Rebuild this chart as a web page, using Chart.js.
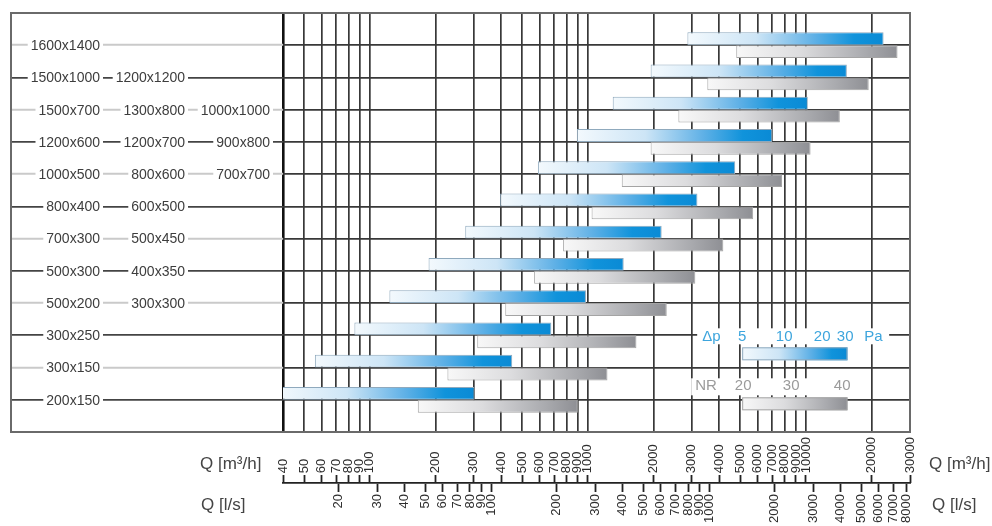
<!DOCTYPE html>
<html>
<head>
<meta charset="utf-8">
<title>Air flow ranges</title>
<script src="https://cdn.jsdelivr.net/npm/chart.js@4.4.1/dist/chart.umd.min.js"></script>
<style>
  html, body { margin: 0; padding: 0; background: #fff; }
  canvas { display: block; }
</style>
</head>
<body>
<canvas id="rangeChart" width="992" height="526"></canvas>
<script>
// duct sizes, up to three per row (top row first)
const sizeCol1 = ['1600x1400', '1500x1000', '1500x700', '1200x600', '1000x500', '800x400', '700x300', '500x300', '500x200', '300x250', '300x150', '200x150'];
const sizeCol2 = ['', '1200x1200', '1300x800', '1200x700', '800x600', '600x500', '500x450', '400x350', '300x300', '', '', ''];
const sizeCol3 = ['', '', '1000x1000', '900x800', '700x700', '', '', '', '', '', '', ''];

// flow range in m3/h, pressure drop 5..30 Pa (blue)
const dpLow  = [2860, 1940, 1300, 890, 590, 396, 274, 186, 123, 85, 56, 38];
const dpHigh = [22700, 15400, 10200, 7000, 4740, 3180, 2180, 1460, 980, 680, 450, 302];
// flow range in m3/h, noise NR 20..40 (grey)
const nrLow  = [4790, 3530, 2600, 1940, 1430, 1040, 770, 567, 418, 311, 227, 166];
const nrHigh = [26300, 19400, 14300, 10500, 7770, 5730, 4180, 3110, 2300, 1670, 1230, 900];

// axis ticks
const flowTicks = [40, 50, 60, 70, 80, 90, 100, 200, 300, 400, 500, 600, 700, 800, 900, 1000, 2000, 3000, 4000, 5000, 6000, 7000, 8000, 9000, 10000, 20000, 30000];
const litreTicks = [20, 30, 40, 50, 60, 70, 80, 90, 100, 200, 300, 400, 500, 600, 700, 800, 900, 1000, 2000, 3000, 4000, 5000, 6000, 7000, 8000];

// key labels
const dpKey = ['5', '10', '20', '30'];
const nrKey = ['20', '30', '40'];

const FLOW_MIN = 40;
const FLOW_MAX = 30000;
const M3H_PER_LS = 3.6;
const ROWS = sizeCol1.length;
const FONT = '"Liberation Sans", Arial, sans-serif';
const GRID = '#383838';

const blueStops = [[0, '#f3f9fd'], [0.35, '#cde5f6'], [0.65, '#5eb0e6'], [0.85, '#1093db'], [1, '#0a8ad5']];
const greyStops = [[0, '#f8f8f8'], [0.4, '#dcdcde'], [0.8, '#a9aaae'], [1, '#8e8f94']];

function makeGradient(ctx, x0, x1, stops) {
    const g = ctx.createLinearGradient(x0, 0, x1, 0);
    stops.forEach(s => g.addColorStop(s[0], s[1]));
    return g;
}

function barFill(stops) {
    return (c) => {
        const chart = c.chart;
        if (!chart.chartArea || !c.raw) return stops[stops.length - 1][1];
        const xs = chart.scales.x;
        return makeGradient(chart.ctx, xs.getPixelForValue(c.raw.x[0]), xs.getPixelForValue(c.raw.x[1]), stops);
    };
}

const tickVal = c => (c.tick ? c.tick.value : -1);
const edgeRow = v => v <= 0 || v >= ROWS + 1;
const oddRow = v => v > 0 && v <= ROWS && v % 2 === 1;

// frame and size labels in the left part
const sizeLabels = {
    id: 'sizeLabels',
    beforeDatasetsDraw(chart) {
        const { ctx, chartArea, scales: { y } } = chart;
        const colRight = [100, 185, 270];
        ctx.save();
        ctx.strokeStyle = '#6a6a6a';
        ctx.lineWidth = 2;
        ctx.strokeRect(y.left, chartArea.top, chartArea.right - y.left, chartArea.bottom - chartArea.top);
        ctx.font = '14px ' + FONT;
        ctx.textAlign = 'right';
        ctx.textBaseline = 'middle';
        [sizeCol1, sizeCol2, sizeCol3].forEach((col, k) => {
            col.forEach((txt, i) => {
                if (!txt) return;
                const yy = y.getPixelForValue(i + 1) + 1;
                const w = ctx.measureText(txt).width;
                ctx.fillStyle = '#fff';
                ctx.fillRect(colRight[k] - w - 3, yy - 8, w + 6, 16);
                ctx.fillStyle = '#3d3d3d';
                ctx.fillText(txt, colRight[k], yy);
            });
        });
        ctx.restore();
    }
};

// key box (Δp / NR) and axis names
const keyAndTitles = {
    id: 'keyAndTitles',
    afterDatasetsDraw(chart) {
        const { ctx, chartArea, scales: { x, y, x2 } } = chart;
        const x0 = x.getPixelForValue(5100);
        const x1 = x.getPixelForValue(15500);
        const base = y.getPixelForValue(10);
        ctx.save();
        ctx.textBaseline = 'middle';
        ctx.font = '15px ' + FONT;

        ctx.fillStyle = '#fff';
        ctx.fillRect(x0 - 45, base - 7, 192, 16);
        ctx.fillRect(x0 - 51, base + 43, 168, 17);

        // pressure drop row
        ctx.fillStyle = '#3da5dd';
        ctx.textAlign = 'left';
        ctx.fillText('\u0394p', x0 - 40, base + 2);
        ctx.fillText('Pa', x0 + 122, base + 2);
        ctx.textAlign = 'center';
        const dpPos = [0, 42, 80, 103];
        dpKey.forEach((t, i) => ctx.fillText(t, x0 + dpPos[i], base + 2));

        // noise row
        ctx.fillStyle = '#9b9b9b';
        ctx.textAlign = 'left';
        ctx.fillText('NR', x0 - 47, base + 51);
        ctx.textAlign = 'center';
        const nrPos = [1, 49, 100];
        nrKey.forEach((t, i) => ctx.fillText(t, x0 + nrPos[i], base + 51));

        // key bars
        ctx.lineWidth = 1;
        ctx.fillStyle = makeGradient(ctx, x0, x1, blueStops);
        ctx.fillRect(x0, base + 12, x1 - x0, 13);
        ctx.strokeStyle = '#8fa9bd';
        ctx.strokeRect(x0 + 0.5, base + 12.5, x1 - x0 - 1, 12);
        ctx.fillStyle = makeGradient(ctx, x0, x1, greyStops);
        ctx.fillRect(x0, base + 62, x1 - x0, 13);
        ctx.strokeStyle = '#a4a4a4';
        ctx.strokeRect(x0 + 0.5, base + 62.5, x1 - x0 - 1, 12);

        // axis names
        ctx.fillStyle = '#444';
        ctx.font = '17px ' + FONT;
        ctx.textAlign = 'left';
        const yM3 = x.bottom - 11;
        const yLs = x2.top + 22;
        ctx.fillText('Q [m\u00b3/h]', 200, yM3);
        ctx.fillText('Q [l/s]', 201, yLs);
        ctx.fillText('Q [m\u00b3/h]', chartArea.right + 19, yM3);
        ctx.fillText('Q [l/s]', chartArea.right + 22, yLs);
        ctx.restore();
    }
};

const rowIndex = sizeCol1.map((_, i) => i + 1);

const ctxRange = document.getElementById('rangeChart').getContext('2d');
const rangeChart = new Chart(ctxRange, {
    type: 'bar',
    data: {
        datasets: [{
            label: 'Δp 5-30 Pa',
            data: rowIndex.map((r, i) => ({ y: r, x: [dpLow[i], dpHigh[i]] })),
            backgroundColor: barFill(blueStops),
            borderColor: '#8fa9bd',
            borderWidth: 1,
            borderSkipped: false
        }, {
            label: 'NR 20-40',
            data: rowIndex.map((r, i) => ({ y: r, x: [nrLow[i], nrHigh[i]] })),
            backgroundColor: barFill(greyStops),
            borderColor: '#a4a4a4',
            borderWidth: 1,
            borderSkipped: false
        }]
    },
    options: {
        indexAxis: 'y',
        responsive: false,
        animation: false,
        categoryPercentage: 0.8,
        barPercentage: 1,
        layout: { padding: { left: 11, top: 13, right: 82, bottom: 0 } },
        plugins: { legend: { display: false }, tooltip: { enabled: false } },
        scales: {
            x: {
                type: 'logarithmic', position: 'bottom', weight: 0,
                min: FLOW_MIN, max: FLOW_MAX,
                afterBuildTicks: s => { s.ticks = flowTicks.map(v => ({ value: v })); },
                afterFit: s => { s.height = 43; },
                grid: {
                    color: c => tickVal(c) === FLOW_MIN ? '#111' : GRID,
                    lineWidth: c => tickVal(c) === FLOW_MIN ? 2.6 : 1.7,
                    drawTicks: false
                },
                border: { display: false },
                ticks: {
                    autoSkip: false, minRotation: 90, maxRotation: 90, padding: 5,
                    color: '#2e2e2e', font: { size: 13, family: FONT },
                    // pad with figure spaces so the numbers sit on a common baseline
                    callback: v => String(v).padEnd(5, '\u2007')
                }
            },
            x3: {
                type: 'logarithmic', position: 'bottom', weight: 1,
                min: FLOW_MIN, max: FLOW_MAX,
                afterBuildTicks: s => { s.ticks = flowTicks.map(v => ({ value: v })); },
                afterFit: s => { s.height = 8; },
                grid: { drawOnChartArea: false, tickLength: 8, tickColor: '#222', tickWidth: 1.8 },
                border: { display: false },
                ticks: { display: false }
            },
            x2: {
                type: 'logarithmic', position: 'bottom', weight: 2,
                min: FLOW_MIN / M3H_PER_LS, max: FLOW_MAX / M3H_PER_LS,
                afterBuildTicks: s => { s.ticks = litreTicks.map(v => ({ value: v })); },
                afterFit: s => { s.height = 43; },
                grid: { drawOnChartArea: false, tickLength: 9, tickColor: '#222', tickWidth: 1.8 },
                border: { display: true, color: '#222', width: 1.8 },
                ticks: {
                    autoSkip: false, minRotation: 90, maxRotation: 90, padding: 2,
                    color: '#2e2e2e', font: { size: 13, family: FONT },
                    callback: v => String(v)
                }
            },
            y: {
                type: 'linear', min: 0, max: ROWS + 1, reverse: true, offset: false,
                afterBuildTicks: s => { s.ticks = [0, ...rowIndex, ROWS + 1].map(v => ({ value: v })); },
                afterFit: s => { s.width = 272; },
                grid: {
                    offset: false,
                    color: c => edgeRow(tickVal(c)) ? 'rgba(0,0,0,0)' : GRID,
                    lineWidth: 1.7,
                    tickLength: 272,
                    tickColor: c => edgeRow(tickVal(c)) ? 'rgba(0,0,0,0)' : (oddRow(tickVal(c)) ? '#cacaca' : '#444'),
                    tickWidth: c => oddRow(tickVal(c)) ? 2 : 1.6
                },
                border: { display: false },
                ticks: { display: false }
            }
        }
    },
    plugins: [sizeLabels, keyAndTitles]
});
</script>
</body>
</html>
